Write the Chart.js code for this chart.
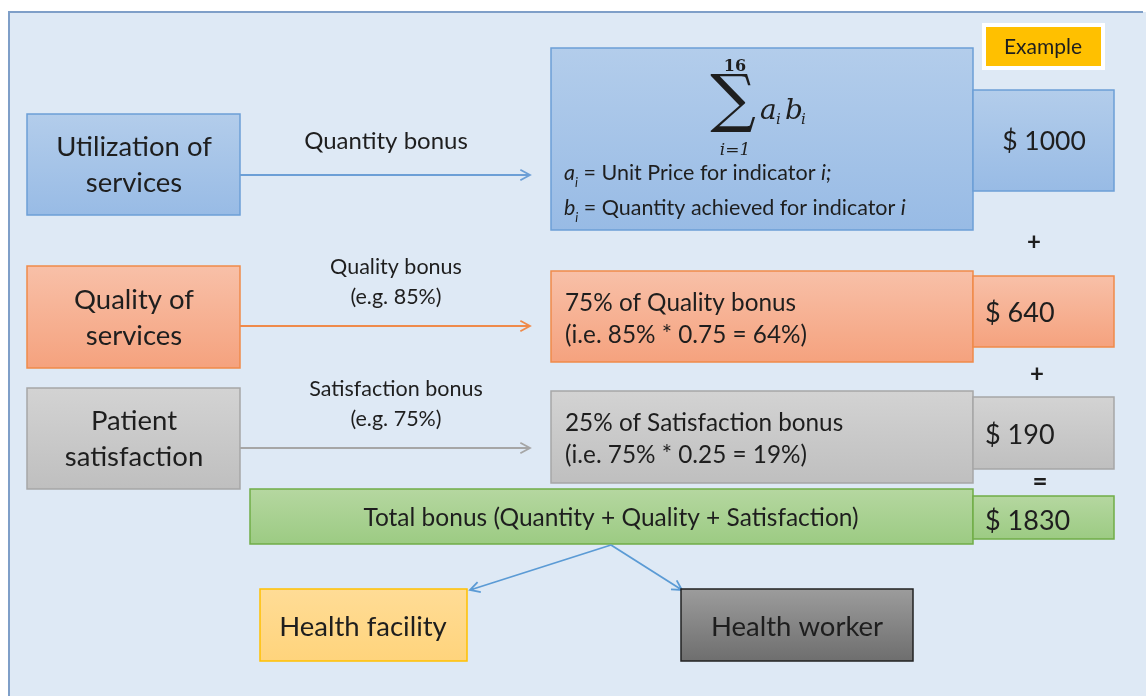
<!DOCTYPE html>
<html lang="en">
<head>
    <meta charset="UTF-8">
    <title>Performance bonus scheme</title>
    <script src="https://cdn.jsdelivr.net/npm/chart.js"></script>
    <style>
        html, body { margin: 0; padding: 0; background: #fff; }
        #wrap { width: 1146px; height: 696px; }
    </style>
</head>
<body>
<div id="wrap"><canvas id="scheme"></canvas></div>
<script>
// data
var sources = ['Utilization of services', 'Quality of services', 'Patient satisfaction'];
var bonusNames = ['Quantity bonus', 'Quality bonus', 'Satisfaction bonus'];
var scores = [null, 85, 75];          // example score (%)
var weights = [null, 0.75, 0.25];     // share of the bonus
var shares = [null, 64, 19];          // score * weight (%)
var amounts = [1000, 640, 190];       // $ paid per component
var total = 1830;
var indicators = 16;
var receivers = ['Health facility', 'Health worker'];

var FONT = 'Lato, "Open Sans", sans-serif';
var SERIF = '"DejaVu Serif", "Liberation Serif", serif';

// draws the diagram through the chart's x / y scales (1 unit = 1 px of the original)
var schemePlugin = {
    id: 'scheme',
    beforeDatasetsDraw: function(chart) {
        var c = chart.ctx;
        var xs = chart.scales.x, ys = chart.scales.y;
        var X = function(v) { return xs.getPixelForValue(v); };
        var Y = function(v) { return ys.getPixelForValue(v); };

        function box(x0, y0, x1, y1, top, bottom, border, lw) {
            var g = c.createLinearGradient(0, Y(y0), 0, Y(y1));
            g.addColorStop(0, top);
            g.addColorStop(1, bottom);
            c.fillStyle = g;
            c.fillRect(X(x0), Y(y0), X(x1) - X(x0), Y(y1) - Y(y0));
            if (border) {
                c.strokeStyle = border;
                c.lineWidth = lw || 1.5;
                c.strokeRect(X(x0), Y(y0), X(x1) - X(x0), Y(y1) - Y(y0));
            }
        }
        function text(s, x, y, size, align, font, style) {
            c.font = (style || '') + ' ' + size + 'px ' + (font || FONT);
            c.fillStyle = '#1e1e1e';
            c.textAlign = align || 'center';
            c.textBaseline = 'middle';
            c.fillText(s, X(x), Y(y));
        }
        // sequence of [text, style, sub] pieces
        function rich(parts, x, y, size) {
            var px = X(x);
            c.textBaseline = 'middle';
            c.textAlign = 'left';
            c.fillStyle = '#1e1e1e';
            parts.forEach(function(p) {
                var sz = p[2] ? size * 0.6 : size;
                c.font = (p[1] || '') + ' ' + sz + 'px ' + FONT;
                c.fillText(p[0], px, Y(y) + (p[2] ? size * 0.45 : 0));
                px += c.measureText(p[0]).width;
            });
        }
        function arrow(x0, y0, x1, y1, color) {
            var ax = X(x0), ay = Y(y0), bx = X(x1), by = Y(y1);
            var a = Math.atan2(by - ay, bx - ax), h = 11;
            c.strokeStyle = color;
            c.lineWidth = 1.8;
            c.beginPath();
            c.moveTo(ax, ay);
            c.lineTo(bx, by);
            c.moveTo(bx - h * Math.cos(a - 0.5), by - h * Math.sin(a - 0.5));
            c.lineTo(bx, by);
            c.lineTo(bx - h * Math.cos(a + 0.5), by - h * Math.sin(a + 0.5));
            c.stroke();
        }

        // background panel
        c.fillStyle = '#dee9f5';
        c.fillRect(X(9), Y(12), X(1146) - X(9), Y(696) - Y(12));
        c.strokeStyle = '#7f9fc8';
        c.lineWidth = 2;
        c.beginPath();
        c.moveTo(X(9), Y(696));
        c.lineTo(X(9), Y(12));
        c.lineTo(X(1143), Y(12));
        c.stroke();

        var rows = [
            { y0: 114, y1: 215, top: '#b3cdeb', bot: '#98bbe5', border: '#6c9fd6', arrow: '#6c9fd6', ay: 175 },
            { y0: 266, y1: 368, top: '#f8c0a8', bot: '#f5a27e', border: '#ef8a4a', arrow: '#ef8a4a', ay: 326 },
            { y0: 388, y1: 489, top: '#d3d3d3', bot: '#bfbfbf', border: '#a6a6a6', arrow: '#a6a6a6', ay: 448 }
        ];

        // source boxes and arrows
        rows.forEach(function(r, i) {
            box(27, r.y0, 240, r.y1, r.top, r.bot, r.border);
            var words = sources[i].split(' ');
            var cut = i === 2 ? 1 : 2;
            var mid = (r.y0 + r.y1) / 2;
            text(words.slice(0, cut).join(' '), 134, mid - 17, 27.5);
            text(words.slice(cut).join(' '), 134, mid + 19, 27.5);
            arrow(240, r.ay, 530, r.ay, r.arrow);
            if (scores[i] === null) {
                text(bonusNames[i], 386, 141, 24);
            } else {
                text(bonusNames[i], 396, r.ay - 59, 21.5);
                text('(e.g. ' + scores[i] + '%)', 396, r.ay - 29, 21.5);
            }
        });

        // quantity formula box
        box(551, 48, 973, 230, rows[0].top, rows[0].bot, rows[0].border);
        box(973, 90, 1114, 191, rows[0].top, rows[0].bot, rows[0].border);
        text('\u2211', 733, 103, 64, 'center', SERIF);
        text(String(indicators), 735, 67, 16, 'center', SERIF, 'bold');
        text('i=1', 735, 151, 17, 'center', SERIF, 'italic');
        c.font = 'italic 28px ' + SERIF;
        c.fillStyle = '#1e1e1e';
        c.textAlign = 'left';
        c.fillText('a', X(760), Y(112));
        c.fillText('b', X(785), Y(112));
        c.font = 'italic 15px ' + SERIF;
        c.fillText('i', X(776), Y(120));
        c.fillText('i', X(801), Y(120));
        rich([['a', 'italic'], ['i', 'italic', true], [' = Unit Price for indicator '], ['i;', 'italic']], 564, 173, 21.5);
        rich([['b', 'italic'], ['i', 'italic', true], [' = Quantity achieved for indicator '], ['i', 'italic']], 564, 208, 21.5);
        text('$ ' + amounts[0], 1044, 141, 26.5);

        // quality / satisfaction share boxes
        var shareBoxes = [null, [271, 362, 276, 347], [391, 483, 397, 469]];
        var shareNames = [null, 'Quality bonus', 'Satisfaction bonus'];
        for (var i = 1; i < 3; i++) {
            var s = shareBoxes[i], r = rows[i];
            box(551, s[0], 973, s[1], r.top, r.bot, r.border);
            box(973, s[2], 1114, s[3], r.top, r.bot, r.border);
            var pct = Math.round(weights[i] * 100);
            text(pct + '% of ' + shareNames[i], 565, s[0] + 32, 24.3, 'left');
            text('(i.e. ' + scores[i] + '% * ' + weights[i].toFixed(2) + ' = ' + shares[i] + '%)', 565, s[0] + 64, 24.3, 'left');
            text('$ ' + amounts[i], 985, (s[2] + s[3]) / 2 + 2, 27, 'left');
        }

        // operators
        text('+', 1034, 242, 24, 'center', FONT, 'bold');
        text('+', 1037, 374, 24, 'center', FONT, 'bold');
        text('=', 1040, 482, 26, 'center', FONT, 'bold');

        // total
        box(250, 489, 973, 544, '#b5d7a0', '#9ccb83', '#70ad47');
        box(973, 496, 1114, 539, '#b5d7a0', '#9ccb83', '#70ad47');
        text('Total bonus (Quantity + Quality + Satisfaction)', 611, 518, 24.5);
        text('$ ' + total, 985, 521, 27, 'left');

        // receivers
        arrow(611, 545, 470, 590, '#5b9bd5');
        arrow(611, 545, 682, 590, '#5b9bd5');
        box(260, 589, 467, 661, '#ffdc96', '#ffd47c', '#ffc000');
        box(681, 589, 913, 661, '#9c9c9c', '#6e6e6e', '#222', 1.5);
        text(receivers[0], 363, 627, 27.5);
        text(receivers[1], 797, 627, 27.5);

        // example tag
        c.fillStyle = '#ffffff';
        c.fillRect(X(982), Y(23), X(1105) - X(982), Y(70) - Y(23));
        c.fillStyle = '#ffc000';
        c.fillRect(X(986), Y(27), X(1101) - X(986), Y(66) - Y(27));
        text('Example', 1043, 47, 21);
    }
};

new Chart(document.getElementById('scheme').getContext('2d'), {
    type: 'scatter',
    data: { datasets: [{ data: [], showLine: false }] },
    options: {
        responsive: true,
        maintainAspectRatio: false,
        animation: false,
        layout: { padding: 0 },
        plugins: { legend: { display: false }, tooltip: { enabled: false } },
        scales: {
            x: { type: 'linear', min: 0, max: 1146, display: false },
            y: { type: 'linear', min: 0, max: 696, reverse: true, display: false }
        }
    },
    plugins: [schemePlugin]
});
</script>
</body>
</html>
